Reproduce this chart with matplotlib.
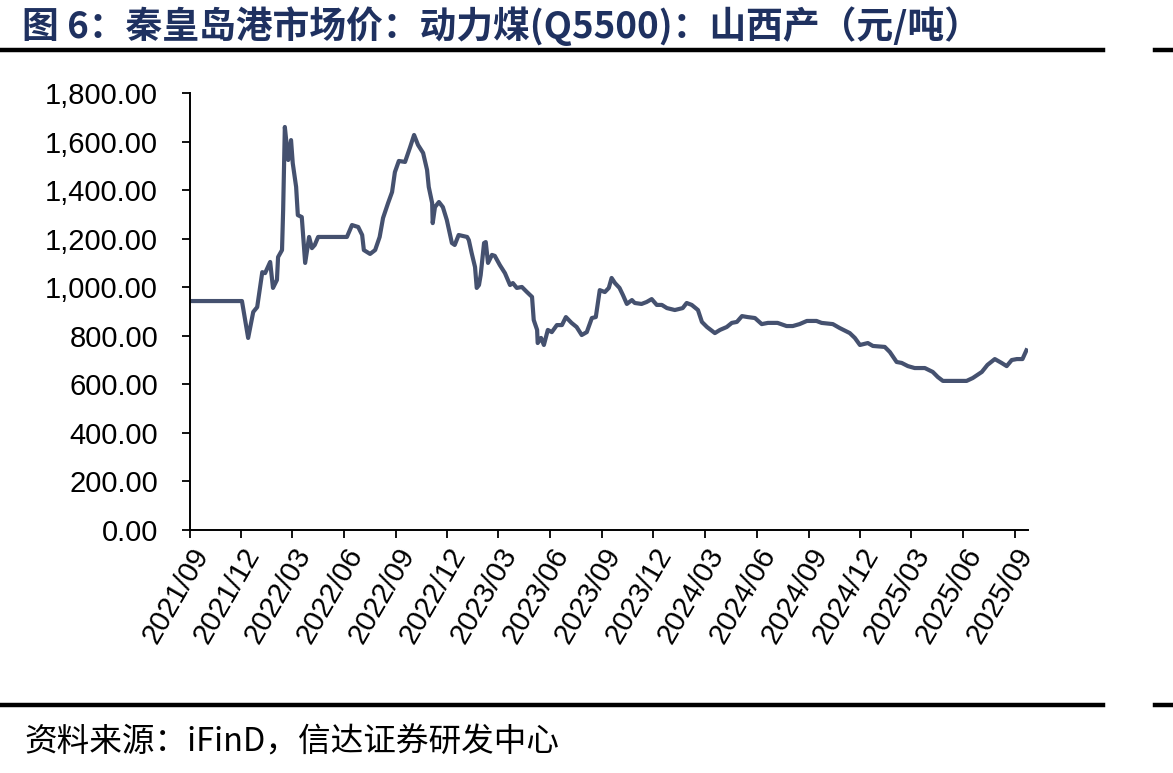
import matplotlib
matplotlib.use("Agg")
import matplotlib.pyplot as plt
import matplotlib.dates as mdates
from matplotlib.lines import Line2D
from matplotlib.ticker import FuncFormatter, MultipleLocator
import pandas as pd

plt.rcParams['font.family'] = ['Liberation Sans', 'Noto Sans CJK SC', 'DejaVu Sans']

title_text = "图 6：秦皇岛港市场价：动力煤(Q5500)：山西产（元/吨）"
source_text = "资料来源：iFinD，信达证券研发中心"

dates = [
    "2021-09-01", "2021-12-02", "2021-12-13", "2021-12-22", "2021-12-29",
    "2022-01-07", "2022-01-12", "2022-01-21", "2022-01-26", "2022-02-02",
    "2022-02-04", "2022-02-11", "2022-02-13", "2022-02-16", "2022-02-22",
    "2022-02-27", "2022-03-02", "2022-03-08", "2022-03-11", "2022-03-18",
    "2022-03-24", "2022-03-31", "2022-04-05", "2022-04-10", "2022-04-16",
    "2022-06-06", "2022-06-15", "2022-06-26", "2022-07-03", "2022-07-06",
    "2022-07-17", "2022-07-26", "2022-08-03", "2022-08-09", "2022-08-18",
    "2022-08-25", "2022-08-30", "2022-09-06", "2022-09-17", "2022-09-26",
    "2022-10-03", "2022-10-10", "2022-10-19", "2022-10-26", "2022-10-29",
    "2022-11-04", "2022-11-05", "2022-11-09", "2022-11-16", "2022-11-23",
    "2022-11-30", "2022-12-09", "2022-12-14", "2022-12-21", "2023-01-05",
    "2023-01-08", "2023-01-13", "2023-01-19", "2023-01-22", "2023-01-26",
    "2023-01-29", "2023-02-04", "2023-02-07", "2023-02-11", "2023-02-18",
    "2023-02-23", "2023-03-04", "2023-03-13", "2023-03-22", "2023-03-27",
    "2023-04-03", "2023-04-12", "2023-04-21", "2023-04-30", "2023-05-03",
    "2023-05-09", "2023-05-10", "2023-05-16", "2023-05-21", "2023-05-28",
    "2023-06-04", "2023-06-13", "2023-06-22", "2023-06-29", "2023-07-09",
    "2023-07-18", "2023-07-27", "2023-08-05", "2023-08-14", "2023-08-21",
    "2023-08-28", "2023-09-06", "2023-09-13", "2023-09-18", "2023-09-24",
    "2023-10-02", "2023-10-08", "2023-10-15", "2023-10-24", "2023-10-29",
    "2023-11-10", "2023-11-19", "2023-11-28", "2023-12-07", "2023-12-16",
    "2023-12-25", "2024-01-08", "2024-01-22", "2024-01-29", "2024-02-07",
    "2024-02-18", "2024-02-25", "2024-03-05", "2024-03-19", "2024-03-28",
    "2024-04-09", "2024-04-18", "2024-04-27", "2024-05-06", "2024-05-16",
    "2024-05-29", "2024-06-10", "2024-06-21", "2024-07-08", "2024-07-24",
    "2024-08-04", "2024-08-16", "2024-08-29", "2024-09-15", "2024-09-24",
    "2024-10-14", "2024-10-26", "2024-11-13", "2024-11-22", "2024-12-01",
    "2024-12-15", "2024-12-24", "2025-01-14", "2025-01-23", "2025-02-04",
    "2025-02-13", "2025-02-24", "2025-03-08", "2025-03-26", "2025-04-09",
    "2025-04-18", "2025-04-27", "2025-06-08", "2025-06-19", "2025-07-05",
    "2025-07-15", "2025-07-28", "2025-08-09", "2025-08-18", "2025-08-27",
    "2025-09-05", "2025-09-15", "2025-09-22",
]
prices = [
    943, 943, 791, 898, 918,
    1062, 1058, 1104, 997, 1030,
    1124, 1153, 1318, 1660, 1524,
    1606, 1511, 1413, 1297, 1289,
    1100, 1207, 1161, 1174, 1207,
    1207, 1256, 1248, 1215, 1153,
    1137, 1153, 1207, 1285, 1347,
    1392, 1474, 1520, 1516, 1577,
    1627, 1586, 1553, 1483, 1413,
    1347, 1264, 1330, 1351, 1330,
    1277, 1182, 1174, 1215, 1207,
    1194, 1141, 1083, 997, 1009,
    1050, 1182, 1186, 1100, 1133,
    1129, 1091, 1058, 1009, 1017,
    997, 1001, 980, 960, 865,
    824, 770, 791, 762, 824,
    815, 844, 844, 877, 853,
    836, 803, 815, 873, 877,
    988, 980, 997, 1038, 1017,
    997, 968, 931, 947, 935,
    931, 939, 951, 927, 927,
    914, 906, 914, 935, 927,
    906, 857, 836, 811, 824,
    836, 853, 857, 881, 877,
    873, 848, 853, 853, 840,
    840, 848, 861, 861, 853,
    848, 832, 811, 791, 762,
    770, 758, 754, 733, 692,
    688, 675, 667, 667, 651,
    630, 614, 614, 626, 651,
    680, 704, 688, 675, 700,
    704, 704, 740,
]
x_start = "2021-09-01"
x_end = "2025-09-24"
y_max = 1800
y_step = 200

line_color = "#45516f"
title_color = "#1f3160"

fig = plt.figure(figsize=(11.73, 7.73), dpi=100)
ax = fig.add_axes([0.162, 0.3144, 0.714, 0.5653])

x = pd.to_datetime(dates)
ax.plot(x, prices, color=line_color, lw=3.0, solid_joinstyle='round')

ax.set_xlim(pd.Timestamp(x_start), pd.Timestamp(x_end))
ax.set_ylim(0, y_max)
ax.yaxis.set_major_locator(MultipleLocator(y_step))
ax.yaxis.set_major_formatter(FuncFormatter(lambda v, p: f"{v:,.2f}"))
ax.xaxis.set_major_locator(mdates.MonthLocator(bymonth=[3, 6, 9, 12]))
ax.xaxis.set_major_formatter(mdates.DateFormatter("%Y/%m"))

for s in ["top", "right"]:
    ax.spines[s].set_visible(False)
for s in ["left", "bottom"]:
    ax.spines[s].set_linewidth(1.4)
    ax.spines[s].set_color("black")

ax.tick_params(axis='both', direction='out', length=6, width=1.3, colors='black')
ax.tick_params(axis='y', labelsize=21, pad=17)
ax.tick_params(axis='x', labelsize=21, pad=3)
for lab in ax.get_xticklabels():
    lab.set_rotation(60)
    lab.set_ha('right')
    lab.set_va('top')
    lab.set_rotation_mode('anchor')

# title and decorative rules
fig.text(0.019, 0.966, title_text, fontsize=26.5, fontweight='bold', color=title_color,
         family=['Noto Sans CJK SC', 'DejaVu Sans'], ha='left', va='center')
fig.add_artist(Line2D([0, 0.940], [0.935, 0.935], color='black', lw=3.2))
fig.add_artist(Line2D([0.985, 1.0], [0.935, 0.935], color='black', lw=3.2))
fig.add_artist(Line2D([0, 0.940], [0.088, 0.088], color='black', lw=3.2))
fig.add_artist(Line2D([0.985, 1.0], [0.088, 0.088], color='black', lw=3.2))

fig.text(0.021, 0.040, source_text, fontsize=23.5, color='black', style='italic',
         family=['Noto Sans CJK SC', 'DejaVu Sans'], ha='left', va='center')

fig.savefig("out.png", dpi=100)
